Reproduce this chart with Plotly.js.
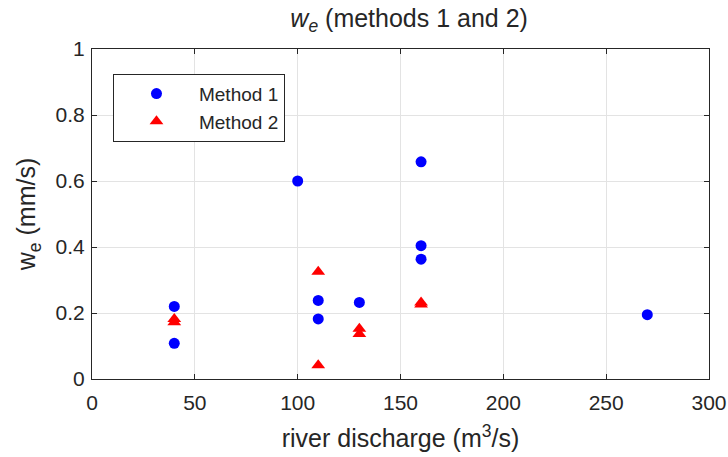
<!DOCTYPE html>
<html><head><meta charset="utf-8">
<script src="https://cdn.plot.ly/plotly-3.0.1.min.js"></script>
<style>body{margin:0;background:#fff}#chart{width:728px;height:457px}</style>
</head><body><div id="chart"></div>
<script>
const m1x = [40, 40, 100, 110, 110, 130, 160, 160, 160, 270];
const m1y = [0.22, 0.108, 0.6, 0.238, 0.182, 0.232, 0.658, 0.404, 0.363, 0.195];
const m2x = [40, 40, 110, 110, 130, 130, 160, 160];
const m2y = [0.182, 0.172, 0.325, 0.042, 0.152, 0.136, 0.232, 0.226];
const xTicks = [0, 50, 100, 150, 200, 250, 300];
const yTicks = [0, 0.2, 0.4, 0.6, 0.8, 1];
const yTickText = ['0', '0.2', '0.4', '0.6', '0.8', '1'];

const font = 'Liberation Sans, Arial, sans-serif';
const traces = [
  {x: m1x, y: m1y, mode: 'markers', type: 'scatter', name: 'Method 1',
   marker: {color: '#0000ff', size: 11, symbol: 'circle'}},
  {x: m2x, y: m2y, mode: 'markers', type: 'scatter', name: 'Method 2',
   marker: {color: '#ff0000', size: 12, symbol: 'triangle-up'}}
];
const axisCommon = {
  showline: true, linecolor: '#262626', linewidth: 1, mirror: 'ticks',
  ticks: 'inside', ticklen: 5, tickcolor: '#262626',
  showgrid: true, gridcolor: '#e3e3e3', gridwidth: 1, zeroline: false,
  tickfont: {family: font, size: 21, color: '#262626'}
};
const layout = {
  width: 728, height: 457,
  margin: {l: 92, r: 19, t: 49, b: 78},
  paper_bgcolor: '#fff', plot_bgcolor: '#fff',
  font: {family: font, color: '#262626'},
  title: {text: '<i>w</i><sub><i>e</i></sub> (methods 1 and 2)', x: 0.562, xanchor: 'center', y: 0.98, yanchor: 'top',
          font: {family: font, size: 25, color: '#262626'}},
  xaxis: Object.assign({}, axisCommon, {range: [0, 300], tickvals: xTicks, ticktext: xTicks.map(String),
    ticklabelstandoff: 5,
    title: {text: 'river discharge (m<sup>3</sup>/s)', font: {family: font, size: 25, color: '#262626'}, standoff: 16}}),
  yaxis: Object.assign({}, axisCommon, {range: [0, 1], tickvals: yTicks, ticktext: yTickText,
    ticklabelstandoff: 2,
    title: {text: 'w<sub>e</sub> (mm/s)', font: {family: font, size: 25, color: '#262626'}, standoff: 12}}),
  legend: {x: 0.034, y: 0.925, xanchor: 'left', yanchor: 'top', bgcolor: '#fff',
           bordercolor: '#262626', borderwidth: 1,
           font: {family: font, size: 19, color: '#262626'}, itemwidth: 75, tracegroupgap: 0},
  showlegend: true
};
Plotly.newPlot('chart', traces, layout, {displayModeBar: false});
</script></body></html>
